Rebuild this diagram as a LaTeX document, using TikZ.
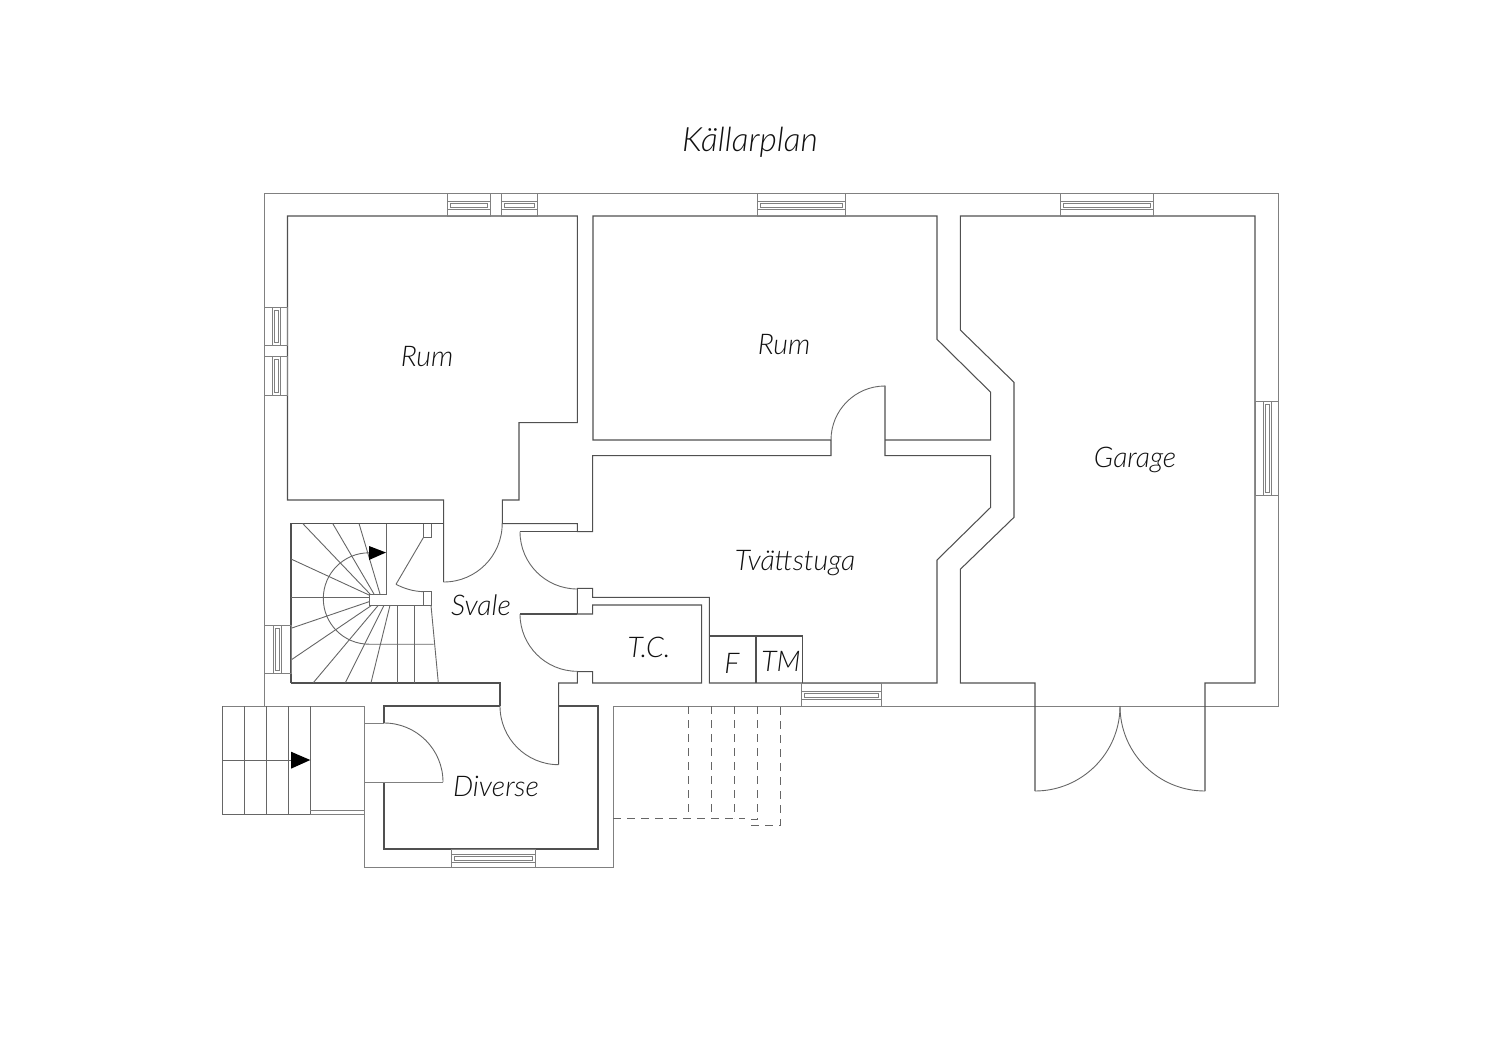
\documentclass[tikz,border=0pt]{standalone}
\usepackage{fontspec}
\setmainfont{Lato}[ItalicFont={Lato Light Italic}]
\definecolor{wall}{HTML}{505050}
\definecolor{shell}{HTML}{808080}
\definecolor{fine}{HTML}{666666}
\definecolor{ink}{HTML}{111111}
\tikzset{
  plan/.style={draw=wall,line width=1.05pt,line join=miter},
  shell plan/.style={draw=shell,line width=1pt,line join=miter},
  thin plan/.style={draw=fine,line width=0.9pt},
  win plan/.style={draw=shell,line width=0.8pt},
  dash plan/.style={draw=fine,line width=1pt,dash pattern=on 8pt off 6pt},
  label/.style={text=ink,font=\itshape\fontsize{28.5}{31}\selectfont,inner sep=0pt},
}
\newcommand{\hwin}[6]{%
  \draw[win plan] (#1,#3) rectangle (#2,#4);
  \draw[win plan] (#1,#5) rectangle (#2,#6);
  \draw[win plan] (#1+3,#5+2) rectangle (#2-3,#6-2);
}
\newcommand{\vwin}[6]{%
  \draw[win plan] (#1,#3) rectangle (#2,#4);
  \draw[win plan] (#5,#3) rectangle (#6,#4);
  \draw[win plan] (#5+2,#3+3) rectangle (#6-2,#4-3);
}
\begin{document}
\begin{tikzpicture}[x=1pt,y=-1pt]
\useasboundingbox (0,0) rectangle (1500,1060);

% outer walls
\draw[shell plan] (264,706) -- (264,193) -- (1278,193) -- (1278,706) -- (613,706) -- (613,867) -- (364,867) -- (364,706);
\draw[shell plan] (222.7,706) -- (364,706);

% inner walls
\draw[plan] (443.7,582) -- (443.7,500) -- (287.5,500) -- (287.5,216) -- (577.3,216) -- (577.3,422.7) -- (519,422.7) -- (519,500) -- (502.3,500) -- (502.3,523.7) -- (577.3,523.7) -- (577.3,531.7) -- (592.7,531.7) -- (592.7,455.7) -- (831,455.7) -- (831,440) -- (593,440) -- (593,216) -- (937,216) -- (937,339.3) -- (990.7,392.3) -- (990.7,440) -- (885,440);
\draw[plan] (885,385.7) -- (885,455.7) -- (990.7,455.7) -- (990.7,507.3) -- (937,560) -- (937,683) -- (709.3,683) -- (709.3,597.3) -- (592.7,597.3) -- (592.7,588.3) -- (577.3,588.3) -- (577.3,614) -- (592.7,614) -- (592.7,605) -- (701.7,605) -- (701.7,683) -- (592.7,683) -- (592.7,671.7) -- (577.3,671.7) -- (577.3,683) -- (558.7,683) -- (558.7,764.7);
\draw[plan] (577.3,531.7) -- (520,531.7);
\draw[plan] (577.3,614) -- (520,614);
\draw[plan] (709.3,636) -- (802.7,636) -- (802.7,683);
\draw[plan] (756,636) -- (756,683);

% garage
\draw[plan] (1035,791) -- (1035,683) -- (960.3,683) -- (960.3,569.3) -- (1014,517.3) -- (1014,382.3) -- (960.3,330) -- (960.3,216) -- (1255,216) -- (1255,683) -- (1205,683) -- (1205,791);

% diverse
\draw[plan] (291,683) -- (500,683) -- (500,706);
\draw[plan] (500,706) -- (384,706) -- (384,723);
\draw[plan] (558.7,706) -- (598,706) -- (598,849) -- (384,849) -- (384,782);
\draw[shell plan] (364,723) -- (384,723);
\draw[shell plan] (364,782) -- (443,782);

% door arcs
\begin{scope}[thin plan]
\draw (443.7,582) arc[start angle=-90,end angle=0,radius=58.5pt];
\draw (520,531.7) arc[start angle=180,end angle=270,radius=57.3pt];
\draw (520,614) arc[start angle=180,end angle=270,radius=57.3pt];
\draw (831,440) arc[start angle=180,end angle=90,radius=54pt];
\draw (500,706) arc[start angle=180,end angle=270,radius=58.7pt];
\draw (384,723) arc[start angle=90,end angle=0,radius=59pt];
\draw (1035,791) arc[start angle=-90,end angle=0,radius=85pt];
\draw (1205,791) arc[start angle=-90,end angle=-180,radius=85pt];
\end{scope}

% entrance steps
\draw[thin plan] (222.7,706) -- (222.7,814.7) -- (310.3,814.7);
\foreach \sx in {244.3,266.3,288.3,310.3} \draw[thin plan] (\sx,706) -- (\sx,814.7);
\draw[shell plan] (310.3,814.7) -- (364,814.7);
\draw[win plan] (310.3,810.7) -- (364,810.7);
\draw[thin plan] (222.7,760) -- (295,760);
\fill[black] (291,751.7) -- (310.3,760) -- (291,768.7) -- cycle;

% inner stair outline
\draw[plan] (291,682.7) -- (291,523.5) -- (443.7,523.5);
\draw[thin plan] (386,523.5) -- (386,594) -- (369,594) -- (369,605.3) -- (431,605.3) -- (431,591.7) -- (423.3,591.7) -- (423.3,605.3);
\draw[thin plan] (423.3,523.5) -- (423.3,537.7) -- (431,537.7) -- (431,523.5);
\draw[thin plan] (423.3,537.7) -- (396,584.3);
\draw[thin plan] (396,584.3) .. controls (404,588.5) and (413,591.3) .. (423.3,591.7);
\draw[thin plan] (431,605.3) -- (438.3,682.7);
% treads
\begin{scope}[thin plan]
\draw (302.7,523.5) -- (370,594);
\draw (332.7,523.5) -- (374,594);
\draw (359,523.5) -- (380,594);
\draw (291,559) -- (369,595);
\draw (291,597.3) -- (369,597.3);
\draw (291,628.3) -- (369,601.7);
\draw (291,660) -- (371.7,605.3);
\draw (313.3,682.7) -- (378.3,605.3);
\draw (345.3,682.7) -- (384,605.3);
\draw (371,682.7) -- (390,605.3);
\draw (397.3,682.7) -- (397.3,605.3);
\draw (414.3,682.7) -- (414.3,605.3);
\draw (369,552.8) arc[start angle=90,end angle=270,radius=45.7pt] -- (433.5,644.2);
\end{scope}
\fill[black] (369,546) -- (386,552.5) -- (369,560) -- cycle;

% windows
\hwin{447.3}{490.7}{193}{216}{201.7}{209}
\hwin{501}{537.7}{193}{216}{201.7}{209}
\hwin{757}{845}{193}{216}{201}{209}
\hwin{1060}{1153}{193}{216}{201}{209}
\hwin{801.7}{881}{683}{706}{691}{699}
\hwin{451.7}{535}{849}{867}{854}{862}
\vwin{264}{287.5}{307.3}{345.7}{272}{280}
\vwin{264}{287.5}{356}{395}{272}{280}
\vwin{264}{291}{625}{673.3}{273.5}{281.5}
\vwin{1255}{1278}{401}{495}{1263}{1271}

% dashed outdoor stair
\draw[dash plan] (613,818) -- (745,818);
\foreach \dx in {688.7,711.3,734.3} \draw[dash plan] (\dx,706) -- (\dx,818);
\draw[dash plan] (757,706) -- (757,819) -- (751,819) -- (751,825.7) -- (780.3,825.7) -- (780.3,706);

% labels
\node[label,font=\itshape\fontsize{33.5}{36}\selectfont] (title) at (750,142) {Källarplan};
\node[label] (rum1) at (427,357) {Rum};
\node[label] (rum2) at (784,345) {Rum};
\node[label] (garage) at (1135,460) {Garage};
\node[label] (tvatt) at (795,563) {Tvättstuga};
\node[label] (svale) at (481,605) {Svale};
\node[label] (tc) at (649,647) {T.C.};
\node[label] (f) at (732,663) {F};
\node[label] (tm) at (781,661) {TM};
\node[label] (diverse) at (496,786) {Diverse};
\end{tikzpicture}
\end{document}
